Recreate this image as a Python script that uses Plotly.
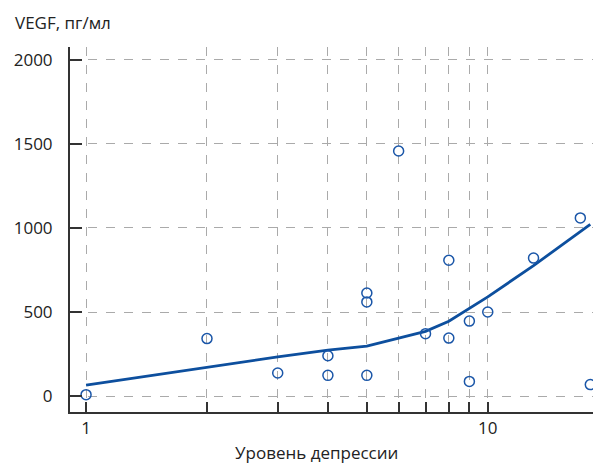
import plotly.graph_objects as go

# Data points (depression level vs VEGF, pg/ml)
pt_x = [1, 2, 3, 4, 4, 5, 5, 5, 6, 7, 8, 8, 9, 9, 10, 13, 17, 18]
pt_y = [8, 342, 137, 240, 123, 613, 560, 123, 1458, 371, 808, 345, 446, 87, 500, 821, 1060, 68]

# Smoothed trend line
line_x = [1, 2, 3, 4, 5, 7, 8, 10, 13, 18]
line_y = [65, 172, 233, 273, 297, 385, 445, 590, 776, 1022]

y_ticks = [0, 500, 1000, 1500, 2000]
x_ticks = [1, 2, 3, 4, 5, 6, 7, 8, 9, 10]
x_ticklabels = ["1", "", "", "", "", "", "", "", "", "10"]

blue = "#0d4f9e"
font = "Open Sans"
fs = 17

fig = go.Figure()
fig.add_trace(go.Scatter(x=line_x, y=line_y, mode="lines",
                         line=dict(color=blue, width=2.8), hoverinfo="skip"))
fig.add_trace(go.Scatter(x=pt_x, y=pt_y, mode="markers", cliponaxis=True,
                         marker=dict(symbol="circle-open", size=10, color="#1a56a8",
                                     line=dict(width=1.5, color="#1a56a8"))))

fig.update_layout(
    width=593, height=465,
    margin=dict(l=70, r=0, t=47, b=53),
    paper_bgcolor="white", plot_bgcolor="white",
    showlegend=False,
    font=dict(family=font, size=fs, color="#222"),
    xaxis=dict(type="log", range=[-0.04, 1.262], automargin=False,
               tickvals=x_ticks, ticktext=x_ticklabels,
               ticks="inside", ticklen=10, tickwidth=1.5, tickcolor="#333",
               showgrid=True, gridcolor="#aaaaaa", griddash="dash", gridwidth=1,
               showline=True, linecolor="#333", linewidth=2,
               zeroline=False, ticklabelstandoff=0,
               tickfont=dict(size=fs, family=font, color="#222")),
    yaxis=dict(range=[-95, 2077], tickvals=y_ticks, automargin=False,
               ticks="inside", ticklen=12, tickwidth=1.5, tickcolor="#333",
               showgrid=True, gridcolor="#aaaaaa", griddash="dash", gridwidth=1,
               showline=True, linecolor="#333", linewidth=2,
               zeroline=False, ticklabelstandoff=12,
               tickfont=dict(size=fs, family=font, color="#222")),
    annotations=[
        dict(text="VEGF, пг/мл", xref="paper", yref="paper", x=-0.109, y=1.066,
             xanchor="left", yanchor="middle", showarrow=False,
             font=dict(size=fs, family=font, color="#222")),
        dict(text="Уровень депрессии", xref="paper", yref="paper", x=0.4717, y=-0.112,
             xanchor="center", yanchor="middle", showarrow=False,
             font=dict(size=fs, family=font, color="#222")),
    ],
)

fig.write_html(
    "out.html",
    config={"displayModeBar": False},
    post_script="document.body.style.margin='0px';"
                "document.body.style.overflow='hidden';"
                "document.documentElement.style.overflow='hidden';",
)
